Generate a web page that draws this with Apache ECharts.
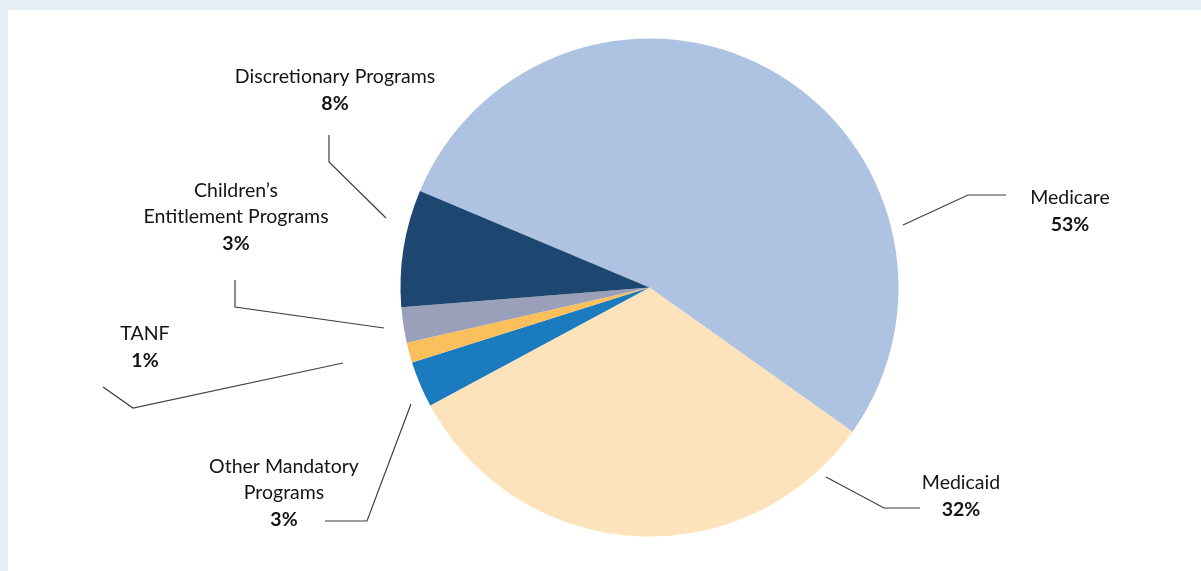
<!DOCTYPE html>
<html>
<head>
<meta charset="utf-8">
<script src="https://cdn.jsdelivr.net/npm/echarts@6/dist/echarts.min.js"></script>
<style>
html,body{margin:0;padding:0;background:#fff;}
#chart{width:1201px;height:571px;}
</style>
</head>
<body>
<div id="chart"></div>
<script>
// Data
const categories = ['Medicare', 'Medicaid', 'Other Mandatory\nPrograms', 'TANF', 'Children\u2019s\nEntitlement Programs', 'Discretionary Programs'];
const shares = [53.5, 32.3, 3.0, 1.3, 2.3, 7.6];           // slice sizes
const pctLabels = ['53%', '32%', '3%', '1%', '3%', '8%'];   // printed labels
const colors = ['#adc3e1', '#fce3bb', '#1b7bbf', '#fbbf5b', '#9aa0b9', '#1d4670'];

// Label placement (center of text block) and leader lines
const labelPos = [
  {x: 1070, y: 211, line: [[903, 225], [968, 195], [1006, 195]]},
  {x: 961, y: 496, line: [[826, 477], [884, 508], [920, 508]]},
  {x: 284, y: 493, line: [[411, 404], [367, 521], [325, 521]]},
  {x: 145, y: 347, line: [[343, 363], [133, 408], [103, 387]]},
  {x: 236, y: 217, line: [[384, 328], [235, 307], [235, 280]]},
  {x: 335, y: 90, line: [[386, 218], [329, 162], [329, 135]]}
];

const chart = echarts.init(document.getElementById('chart'), null, {renderer: 'canvas'});
const option = {
  backgroundColor: '#ffffff',
  animation: false,
  graphic: [
    {type: 'rect', left: 0, top: 0, shape: {width: 1201, height: 10}, style: {fill: '#e6eef8'}, z: -10, silent: true},
    {type: 'rect', left: 0, top: 0, shape: {width: 8, height: 571}, style: {fill: '#e6eef8'}, z: -10, silent: true}
  ],
  series: [{
    type: 'pie',
    center: [649.5, 287.5],
    radius: 249,
    startAngle: 157.2,
    clockwise: true,
    avoidLabelOverlap: false,
    itemStyle: {borderWidth: 0},
    emphasis: {disabled: true},
    label: {
      show: true,
      position: 'outer',
      fontFamily: 'Lato, sans-serif',
      color: '#1a1a1a',
      formatter: function (p) {
        const lines = categories[p.dataIndex].split('\n').map(s => '{n|' + s + '}');
        lines.push('{p|' + pctLabels[p.dataIndex] + '}');
        return lines.join('\n');
      },
      rich: {
        n: {fontFamily: 'Lato, sans-serif', fontSize: 19.5, lineHeight: 26.5, color: '#141414', align: 'center'},
        p: {fontFamily: 'Lato, sans-serif', fontSize: 19.5, lineHeight: 26.5, fontWeight: 'bold', color: '#141414', align: 'center'}
      }
    },
    labelLine: {show: true, lineStyle: {color: '#3f3f3f', width: 1.2}},
    labelLayout: function (params) {
      const lp = labelPos[params.dataIndex];
      return {x: lp.x, y: lp.y, align: 'center', verticalAlign: 'middle', labelLinePoints: lp.line};
    },
    data: categories.map((c, i) => ({name: c, value: shares[i], itemStyle: {color: colors[i]}}))
  }]
};
chart.setOption(option);
</script>
</body>
</html>
